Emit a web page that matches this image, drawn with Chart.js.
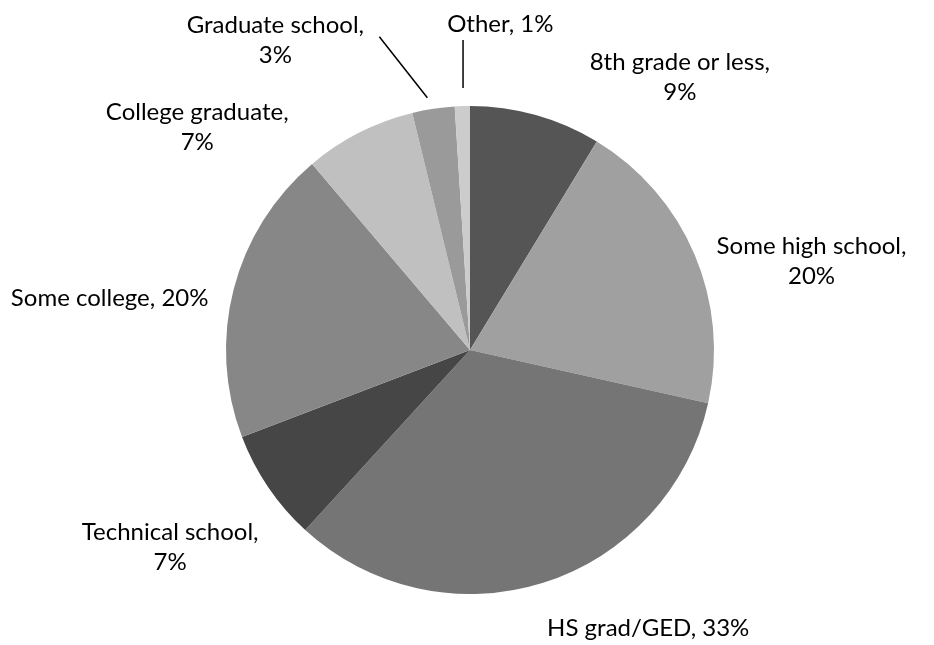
<!DOCTYPE html>
<html>
<head>
<meta charset="utf-8">
<script src="https://cdn.jsdelivr.net/npm/chart.js@4/dist/chart.umd.min.js"></script>
<style>
html,body{margin:0;padding:0;background:#fff;}
#c{display:block;}
</style>
</head>
<body>
<canvas id="c" width="934" height="645"></canvas>
<script>
const categories = ['8th grade or less', 'Some high school', 'HS grad/GED', 'Technical school', 'Some college', 'College graduate', 'Graduate school', 'Other'];
const values = [8.7, 19.8, 33.3, 7.4, 19.6, 7.4, 2.8, 1.0];
const pctLabels = ['9%', '20%', '33%', '7%', '20%', '7%', '3%', '1%'];

const sliceColors = ['#555555', '#a0a0a0', '#757575', '#464646', '#878787', '#c0c0c0', '#9a9a9a', '#cccccc'];
// label placement: offset from the slice's outer mid-point, and whether to wrap
const labelStyle = [
  {dx: 144, dy: -38, wrap: true},
  {dx: 117, dy: 7, wrap: true},
  {dx: 105, dy: 46, wrap: false},
  {dx: -98, dy: 60, wrap: true},
  {dx: -124, dy: 9, wrap: false},
  {dx: -162, dy: -5, wrap: true},
  {dx: -158, dy: -69, wrap: true, leader: [[-6, -11], [-54, -72]]},
  {dx: 38, dy: -82, wrap: false, leader: [[0.7, -18], [0.7, -66]]}
];

const FONT = '24px Lato, "Open Sans", sans-serif';
const LINE_H = 30;

const labelPlugin = {
  id: 'sliceLabels',
  afterDatasetsDraw(chart) {
    const ctx = chart.ctx;
    const meta = chart.getDatasetMeta(0);
    ctx.save();
    ctx.font = FONT;
    ctx.fillStyle = '#000';
    ctx.strokeStyle = '#000';
    ctx.lineWidth = 1.5;
    ctx.textAlign = 'center';
    ctx.textBaseline = 'middle';
    meta.data.forEach((arc, i) => {
      const p = arc.getProps(['x', 'y', 'startAngle', 'endAngle', 'outerRadius'], true);
      const mid = (p.startAngle + p.endAngle) / 2;
      const ax = p.x + Math.cos(mid) * p.outerRadius;
      const ay = p.y + Math.sin(mid) * p.outerRadius;
      const st = labelStyle[i];
      const cx = ax + st.dx, cy = ay + st.dy;
      if (st.leader) {
        ctx.beginPath();
        ctx.moveTo(ax + st.leader[0][0], ay + st.leader[0][1]);
        ctx.lineTo(ax + st.leader[1][0], ay + st.leader[1][1]);
        ctx.stroke();
      }
      if (st.wrap) {
        ctx.fillText(categories[i] + ',', cx, cy - LINE_H / 2);
        ctx.fillText(pctLabels[i], cx, cy + LINE_H / 2);
      } else {
        ctx.fillText(categories[i] + ', ' + pctLabels[i], cx, cy);
      }
    });
    ctx.restore();
  }
};

new Chart(document.getElementById('c'), {
  type: 'pie',
  data: {
    labels: categories,
    datasets: [{
      data: values,
      backgroundColor: sliceColors,
      borderWidth: 0
    }]
  },
  options: {
    responsive: false,
    animation: false,
    layout: {padding: {left: 226, right: 220, top: 106, bottom: 51}},
    plugins: {
      legend: {display: false},
      tooltip: {enabled: false}
    }
  },
  plugins: [labelPlugin]
});
</script>
</body>
</html>
